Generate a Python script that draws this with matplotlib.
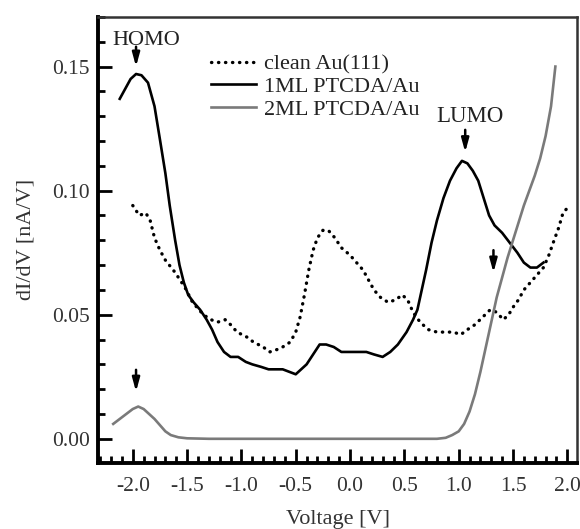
import numpy as np
import matplotlib
matplotlib.use('Agg')
import matplotlib.pyplot as plt
from matplotlib.ticker import MultipleLocator

plt.rcParams['font.family'] = ['Liberation Serif', 'DejaVu Serif']
plt.rcParams['text.color'] = '#222222'

# clean Au(111) - dotted
x_au = [-2.00, -1.94, -1.88, -1.84, -1.80, -1.75, -1.70, -1.61, -1.52, -1.45, -1.35, -1.28,
        -1.22, -1.15, -1.10, -1.04, -0.95, -0.89, -0.80, -0.74, -0.67, -0.62, -0.55, -0.50,
        -0.46, -0.42, -0.38, -0.34, -0.30, -0.25, -0.20, -0.14, -0.08, 0.00, 0.06, 0.12,
        0.17, 0.22, 0.28, 0.35, 0.42, 0.48, 0.53, 0.58, 0.645, 0.72, 0.80, 0.88, 0.95, 1.02,
        1.08, 1.15, 1.22, 1.29, 1.35, 1.41, 1.46, 1.50, 1.55, 1.60, 1.66, 1.72, 1.78, 1.83,
        1.87, 1.92, 1.96, 2.00]
y_au = [0.094, 0.090, 0.091, 0.088, 0.081, 0.076, 0.072, 0.067, 0.061, 0.055, 0.050, 0.048,
        0.047, 0.048, 0.046, 0.043, 0.041, 0.039, 0.037, 0.035, 0.036, 0.037, 0.039, 0.043,
        0.049, 0.058, 0.068, 0.076, 0.081, 0.084, 0.084, 0.081, 0.077, 0.074, 0.071, 0.068,
        0.064, 0.060, 0.057, 0.055, 0.056, 0.058, 0.056, 0.051, 0.047, 0.044, 0.043, 0.043,
        0.043, 0.042, 0.044, 0.046, 0.049, 0.052, 0.051, 0.048, 0.050, 0.053, 0.056, 0.060,
        0.063, 0.066, 0.069, 0.074, 0.079, 0.085, 0.091, 0.093]

# 1ML PTCDA/Au - black
x_1ml = [-2.12, -2.07, -2.02, -1.97, -1.92, -1.86, -1.80, -1.75, -1.70, -1.66, -1.61, -1.57,
         -1.53, -1.49, -1.44, -1.38, -1.32, -1.27, -1.22, -1.16, -1.10, -1.03, -0.96, -0.90,
         -0.82, -0.75, -0.68, -0.62, -0.56, -0.50, -0.45, -0.40, -0.34, -0.28, -0.22, -0.15,
         -0.08, 0.00, 0.08, 0.15, 0.22, 0.30, 0.37, 0.44, 0.52, 0.58, 0.62, 0.66, 0.70, 0.75,
         0.80, 0.86, 0.92, 0.98, 1.03, 1.08, 1.13, 1.18, 1.23, 1.28, 1.33, 1.40, 1.47, 1.54,
         1.60, 1.66, 1.72, 1.78]
y_1ml = [0.137, 0.141, 0.145, 0.147, 0.1465, 0.1435, 0.134, 0.1206, 0.107, 0.094, 0.080, 0.070,
         0.063, 0.058, 0.055, 0.052, 0.048, 0.044, 0.039, 0.035, 0.033, 0.033, 0.031, 0.030,
         0.029, 0.028, 0.028, 0.028, 0.027, 0.026, 0.028, 0.030, 0.034, 0.038, 0.038, 0.037,
         0.035, 0.035, 0.035, 0.035, 0.034, 0.033, 0.035, 0.038, 0.043, 0.048, 0.052, 0.060,
         0.068, 0.079, 0.088, 0.097, 0.104, 0.109, 0.112, 0.111, 0.108, 0.104, 0.097, 0.090,
         0.086, 0.083, 0.079, 0.075, 0.071, 0.069, 0.069, 0.071]

# 2ML PTCDA/Au - grey
x_2ml = [-2.18, -2.12, -2.06, -2.00, -1.95, -1.90, -1.85, -1.80, -1.75, -1.70, -1.65, -1.58,
         -1.50, -1.30, -1.00, -0.50, 0.00, 0.50, 0.80, 0.88, 0.94, 1.00, 1.05, 1.10, 1.15,
         1.20, 1.25, 1.30, 1.35, 1.40, 1.45, 1.50, 1.55, 1.60, 1.65, 1.70, 1.75, 1.80, 1.85,
         1.89]
y_2ml = [0.006, 0.008, 0.010, 0.012, 0.013, 0.012, 0.010, 0.008, 0.0055, 0.003, 0.0015, 0.0006,
         0.0002, 0.0, 0.0, 0.0, 0.0, 0.0, 0.0, 0.0004, 0.0015, 0.003, 0.006, 0.011, 0.018,
         0.027, 0.037, 0.047, 0.057, 0.065, 0.073, 0.080, 0.087, 0.094, 0.100, 0.106, 0.113,
         0.122, 0.134, 0.150]

labels = ['clean Au(111)', '1ML PTCDA/Au', '2ML PTCDA/Au']

# arrow markers (x, top, tip)
arrows = [(-1.97, 0.158, 0.150), (1.06, 0.1245, 0.1155),
          (-1.97, 0.0278, 0.019), (1.32, 0.076, 0.067)]

fig = plt.figure(figsize=(5.8, 5.29), dpi=100)
ax = fig.add_axes([0.169, 0.125, 0.826, 0.843])

ax.plot(x_au, y_au, color='black', lw=2.4, linestyle=(0, (0.1, 2.0)),
        dash_capstyle='round', label=labels[0])
ax.plot(x_1ml, y_1ml, color='black', lw=1.9, label=labels[1])
ax.plot(x_2ml, y_2ml, color='#7a7a7a', lw=1.9, label=labels[2])

for xa, ytop, ytip in arrows:
    ax.annotate('', xy=(xa, ytip), xytext=(xa, ytop),
                arrowprops=dict(arrowstyle='-|>,head_length=0.8,head_width=0.22',
                                color='black', lw=1.8, shrinkA=0, shrinkB=0))

ax.text(-1.88, 0.1605, 'HOMO', fontsize=16, ha='center', va='center')
ax.text(1.10, 0.130, 'LUMO', fontsize=16.5, ha='center', va='center')

ax.set_xlim(-2.32, 2.09)
ax.set_ylim(-0.0097, 0.170)
ax.xaxis.set_major_locator(MultipleLocator(0.5))
ax.xaxis.set_minor_locator(MultipleLocator(0.1))
ax.yaxis.set_major_locator(MultipleLocator(0.05))
ax.yaxis.set_minor_locator(MultipleLocator(0.01))
ax.xaxis.set_major_formatter(matplotlib.ticker.FormatStrFormatter('%.1f'))
ax.yaxis.set_major_formatter(matplotlib.ticker.FormatStrFormatter('%.2f'))

ax.tick_params(which='both', direction='in', top=False, right=False,
               labelsize=15.5, labelcolor='#333333', width=2)
ax.tick_params(which='major', length=10)
ax.tick_params(which='minor', length=5)
ax.tick_params(axis='x', which='major', pad=10)
ax.tick_params(axis='y', which='major', pad=6)

for s in ['left', 'bottom']:
    ax.spines[s].set_linewidth(2.8)
for s in ['top', 'right']:
    ax.spines[s].set_linewidth(1.8)
    ax.spines[s].set_color('#333333')

ax.set_xlabel('Voltage [V]', fontsize=16, color='#333333', labelpad=10)
ax.set_ylabel('dI/dV [nA/V]', fontsize=16, color='#333333', labelpad=12)

ax.legend(loc='upper left', bbox_to_anchor=(0.236, 0.917), frameon=False,
          fontsize=16, handlelength=2.0, handletextpad=0.4, labelspacing=0.1,
          borderpad=0, borderaxespad=0)

fig.savefig('out.png', dpi=100)
